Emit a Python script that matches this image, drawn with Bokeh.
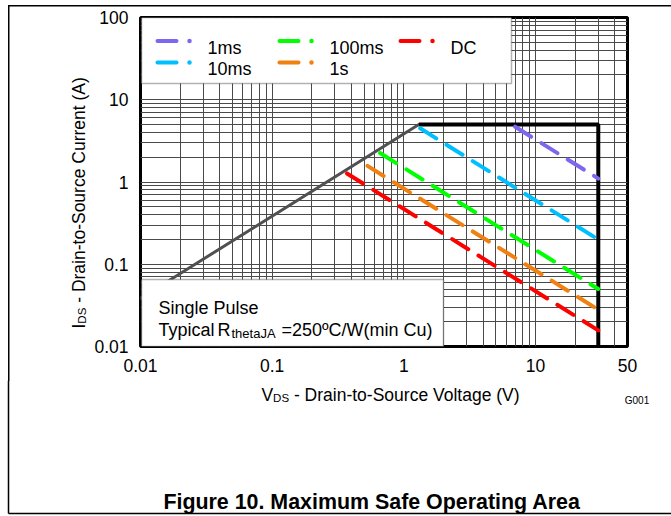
import math
from bokeh.plotting import figure
from bokeh.layouts import column, row
from bokeh.models import Range1d, FixedTicker, BoxAnnotation, Label
from bokeh.embed import file_html
from bokeh.resources import INLINE

# ---------------- data ----------------
x_ticks = [0.01, 0.1, 1, 10, 50]
x_tick_labels = ["0.01", "0.1", "1", "10", "50"]
y_ticks = [0.01, 0.1, 1, 10, 100]
y_tick_labels = ["0.01", "0.1", "1", "10", "100"]

# R_DS(on) limit line and package limit (current / voltage)
rds_v = [0.01, 1.3]
rds_i = [0.0385, 5.0]
limit_v = [1.3, 30, 30]
limit_i = [5.0, 5.0, 0.01]

series_names = ["1ms", "10ms", "100ms", "1s", "DC"]
v_1ms = [7.0, 30]
i_1ms = [4.7, 1.1]
v_10ms = [1.33, 30]
i_10ms = [4.5, 0.2]
v_100ms = [0.66, 30]
i_100ms = [2.25, 0.05]
v_1s = [0.53, 30]
i_1s = [1.57, 0.028]
v_dc = [0.37, 30]
i_dc = [1.27, 0.0157]

series_v = [v_1ms, v_10ms, v_100ms, v_1s, v_dc]
series_i = [i_1ms, i_10ms, i_100ms, i_1s, i_dc]
series_colors = ["#7B68EE", "#00BFFF", "#00FF00", "#F08010", "#FF0000"]

# ---------------- page geometry (page pixels) ----------------
PW = 671
ROW_BOTTOM = 380    # bottom of the chart row
PAGE_BOTTOM = 515
LEFT_W = 90         # column holding the rotated y label
FL, FR, FT, FB = 140, 627, 17, 346  # plot frame edges
XMIN, XMAX, YMIN, YMAX = 0.01, 50, 0.01, 100
FONT = "Liberation Sans"


def dx(px):
    lo, hi = math.log10(XMIN), math.log10(XMAX)
    return 10 ** (lo + (px - FL) / (FR - FL) * (hi - lo))


def dy(py):
    lo, hi = math.log10(YMIN), math.log10(YMAX)
    return 10 ** (hi - (py - FT) / (FB - FT) * (hi - lo))


ARIAL = {' ': 278, '(': 333, ')': 333, '-': 333, '.': 278, '/': 278, '=': 584,
         '0': 556, '1': 556, '2': 556, '3': 556, '4': 556, '5': 556, '6': 556,
         '7': 556, '8': 556, '9': 556, 'A': 667, 'C': 722, 'D': 722, 'I': 278,
         'J': 500, 'R': 722, 'S': 667, 'V': 667, 'W': 944, 'a': 556, 'c': 500,
         'e': 556, 'g': 556, 'h': 556, 'i': 222, 'l': 222, 'm': 833, 'n': 556,
         'o': 556, 'r': 333, 's': 500, 't': 278, 'u': 556, 'º': 365}


def tw(s, size):
    return sum(ARIAL.get(c, 556) for c in s) * size / 1000.0


def label(fig, x, y, text, size, align="left", bold=False, angle=0.0, baseline="alphabetic"):
    fig.add_layout(Label(x=x, y=y, text=text, text_font=FONT,
                         text_font_size=f"{size}px", text_color="black",
                         text_align=align, text_baseline=baseline,
                         text_font_style="bold" if bold else "normal",
                         angle=angle))


def aux_fig(width, height, x0, x1, y0, y1, top=0, bottom=0):
    """Figure with page-pixel data coordinates (y negated) on its frame."""
    f = figure(width=width, height=height,
               x_range=Range1d(x0, x1), y_range=Range1d(-y1, -y0),
               x_axis_location=None, y_axis_location=None,
               min_border=0, min_border_top=top, min_border_bottom=bottom,
               output_backend="svg", toolbar_location=None)
    f.outline_line_color = None
    f.background_fill_alpha = 0
    f.border_fill_alpha = 0
    f.xgrid.visible = False
    f.ygrid.visible = False
    return f


# ---------------- main chart ----------------
MW = PW - LEFT_W
MH = ROW_BOTTOM
p = figure(width=MW, height=MH, x_axis_type="log", y_axis_type="log",
           x_range=Range1d(XMIN, XMAX), y_range=Range1d(YMIN, YMAX),
           min_border_left=FL - LEFT_W, min_border_right=PW - FR,
           min_border_top=FT, min_border_bottom=ROW_BOTTOM - FB,
           output_backend="svg", toolbar_location=None)
p.background_fill_color = "white"
p.border_fill_alpha = 0
p.outline_line_color = "black"
p.outline_line_width = 3

p.xaxis.ticker = FixedTicker(ticks=x_ticks, minor_ticks=[])
p.yaxis.ticker = FixedTicker(ticks=y_ticks, minor_ticks=[])
p.xaxis.major_label_overrides = {v: s for v, s in zip(x_ticks, x_tick_labels)}
p.yaxis.major_label_overrides = {v: s for v, s in zip(y_ticks, y_tick_labels)}
for ax in (p.xaxis, p.yaxis):
    ax.axis_line_color = None
    ax.major_tick_line_color = None
    ax.minor_tick_line_color = None
    ax.major_tick_out = 0
    ax.major_tick_in = 0
    ax.major_label_text_font = FONT
    ax.major_label_text_font_size = "17.5px"
    ax.major_label_text_color = "black"
p.xaxis.major_label_standoff = 12
p.yaxis.major_label_standoff = 12

x_grid = [m * 10.0 ** e for e in range(-2, 2) for m in range(1, 10) if m * 10.0 ** e <= 50]
y_grid = [m * 10.0 ** e for e in range(-2, 2) for m in range(1, 10)]
p.xgrid.ticker = FixedTicker(ticks=x_grid)
p.ygrid.ticker = FixedTicker(ticks=y_grid)
for g in (p.xgrid, p.ygrid):
    g.grid_line_color = "#4a4a4a"
    g.grid_line_width = 1

# legend box (under the glyphs)
p.add_layout(BoxAnnotation(left=dx(141), right=dx(511), top=dy(17), bottom=dy(83),
                           fill_color="white", fill_alpha=1, line_color="black",
                           line_width=1.5, level="underlay"))

p.line(rds_v, rds_i, line_color="#505050", line_width=3, line_cap="round")
p.line(limit_v, limit_i, line_color="black", line_width=4)
for v, i, c in zip(series_v, series_i, series_colors):
    p.line(v, i, line_color=c, line_width=4, line_dash="19 12", line_cap="round")

# legend entries
leg_cols = [155, 277, 398]
leg_rows = [40.5, 62]
slots = [(0, 0), (0, 1), (1, 0), (1, 1), (2, 0)]
for name, c, (ci, ri) in zip(series_names, series_colors, slots):
    x0 = leg_cols[ci]
    yy = dy(leg_rows[ri])
    p.line([dx(x0 + 2), dx(x0 + 21)], [yy, yy], line_color=c, line_width=4, line_cap="round")
    p.scatter([dx(x0 + 34)], [yy], size=4.5, color=c, line_width=0)
    label(p, dx(x0 + 52), dy(leg_rows[ri] + 6.5), name, 18)

# note box (above the glyphs)
p.add_layout(BoxAnnotation(left=dx(141), right=dx(443), top=dy(279), bottom=dy(346),
                           fill_color="white", fill_alpha=1, line_color="black",
                           line_width=1.5))
label(p, dx(158), dy(307.5), "Single Pulse", 18)
label(p, dx(158), dy(329), "Typical", 18)
label(p, dx(217), dy(329), "R", 18)
label(p, dx(231), dy(333), "thetaJA", 13)
label(p, dx(281), dy(329), "=250ºC/W(min Cu)", 18)

# ---------------- left column: rotated y label (frame aligned with the chart) ----------------
left = aux_fig(LEFT_W, MH, 0, LEFT_W, FT, FB, top=FT, bottom=ROW_BOTTOM - FB)
yl_main = "- Drain-to-Source Current (A)"
y0 = 328
s_i = tw("I", 17.5)
s_ds = tw("DS", 11.5)
label(left, 78, -y0, "I", 17.5, angle=math.pi / 2)
label(left, 81.5, -(y0 - s_i), "DS", 11.5, angle=math.pi / 2)
label(left, 78, -(y0 - s_i - s_ds - tw(" ", 17.5)), yl_main, 17.5, angle=math.pi / 2)

# ---------------- bottom block: x label, id, caption ----------------
bot = aux_fig(PW, PAGE_BOTTOM - ROW_BOTTOM, 0, PW, ROW_BOTTOM, PAGE_BOTTOM)
bot.line([8, 8], [-ROW_BOTTOM, -513], line_color="black", line_width=1.5)
bot.line([8, PW], [-513, -513], line_color="black", line_width=1.5)
xl_main = "- Drain-to-Source Voltage (V)"
s_v = tw("V", 17.5)
total = s_v + s_ds + tw(" " + xl_main, 17.5)
x0 = 520 - total
label(bot, x0, -394, "V", 17.5)
label(bot, x0 + s_v, -397.5, "DS", 11.5)
label(bot, x0 + s_v + s_ds + tw(" ", 17.5), -394, xl_main, 17.5)
label(bot, 636.5, -399.5, "G001", 10, align="center")
label(bot, 371.5, -501, "Figure 10. Maximum Safe Operating Area", 21.4, align="center", bold=True)

# page rules above the chart row (top edge and left edge)
page_styles = {
    "background-color": "white",
    "background-image": "linear-gradient(#000000, #000000), linear-gradient(#000000, #000000)",
    "background-size": "1.5px 376px, 663px 1.5px",
    "background-position": "7.5px 4.5px, 7.5px 4.5px",
    "background-repeat": "no-repeat",
}
layout = column(row(left, p), bot, styles=page_styles)
open("out.html", "w").write(file_html(layout, INLINE))
